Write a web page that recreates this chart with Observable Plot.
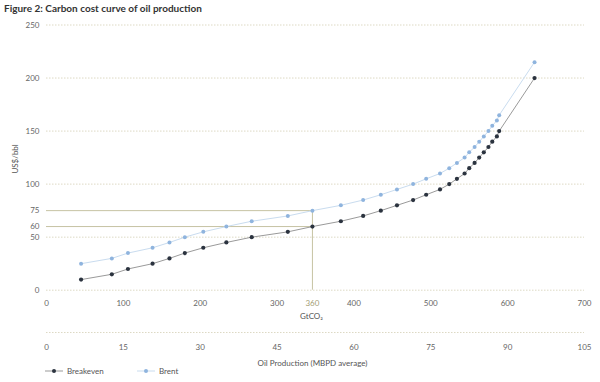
<!DOCTYPE html>
<html><head><meta charset="utf-8">
<script src="https://cdn.jsdelivr.net/npm/d3@7"></script>
<script src="https://cdn.jsdelivr.net/npm/@observablehq/plot@0.6"></script>
<style>
body{margin:0;background:#fff;font-family:Lato,"Open Sans",sans-serif;}
#wrap{width:600px;height:382px;position:relative;overflow:hidden;background:#fff}
#title{position:absolute;left:4px;top:2px;font-weight:bold;font-size:10px;color:#333;white-space:nowrap}
#main{position:absolute;left:0;top:18px}
#second{position:absolute;left:0;top:322px}
.leg{position:absolute;top:366px;font-size:8px;color:#555;display:flex;align-items:center;white-space:nowrap}
.leg svg{margin-right:3px}
</style></head>
<body>
<div id="wrap">
  <div id="title">Figure 2: Carbon cost curve of oil production</div>
  <div id="main"></div>
  <div id="second"></div>
  <div class="leg" style="left:44px"><svg width="20" height="10"><line x1="1" x2="19" y1="5" y2="5" stroke="#999" stroke-width="1"/><circle cx="10" cy="5" r="2" fill="#2b333f"/></svg>Breakeven</div>
  <div class="leg" style="left:136px"><svg width="20" height="10"><line x1="1" x2="19" y1="5" y2="5" stroke="#c9dcef" stroke-width="1"/><circle cx="10" cy="5" r="2" fill="#8fb4de"/></svg>Brent</div>
</div>
<script>
// Cumulative emissions (GtCO2) for each point on the curve
const gtco2 = [45, 85, 106, 138, 160, 180, 204, 234, 267, 314, 346, 383, 412, 435, 456, 477, 494, 512, 524, 534, 544, 550, 557, 563, 569, 575, 580, 586, 589, 635];
// Breakeven price (US$/bbl)
const breakeven = [10, 15, 20, 25, 30, 35, 40, 45, 50, 55, 60, 65, 70, 75, 80, 85, 90, 95, 100, 105, 110, 115, 120, 125, 130, 135, 140, 145, 150, 200];
// Brent price (US$/bbl)
const brent = [25, 30, 35, 40, 45, 50, 55, 60, 65, 70, 75, 80, 85, 90, 95, 100, 105, 110, 115, 120, 125, 130, 135, 140, 145, 150, 155, 160, 165, 215];
const yTicks = [0, 50, 60, 75, 100, 150, 200, 250];
const yGrid = [0, 50, 100, 150, 200, 250];
const xTicks = [0, 100, 200, 300, 400, 500, 600, 700];
const prodTicks = [0, 15, 30, 45, 60, 75, 90, 105];
const refIndex = 10;          // point where breakeven = 60
const refX = gtco2[refIndex]; // position of the 360 GtCO2 marker
const refLabel = "360";
const refLevels = [60, 75];

const rows = gtco2.map((x, i) => ({x, breakeven: breakeven[i], brent: brent[i]}));
const guideH = refLevels.map(v => ({y: v, x1: 0, x2: refX}));

const tan = "#c6c3a3";
const gridC = "#ddd9c4";
const tickC = "#666";

const main = Plot.plot({
  width: 600, height: 304,
  marginLeft: 46, marginRight: 16, marginTop: 6.5, marginBottom: 32.3,
  style: {fontFamily: "Lato, 'Open Sans', sans-serif", fontSize: "8px", background: "#fff"},
  x: {domain: [0, 700], axis: null},
  y: {domain: [0, 250], axis: null},
  marks: [
    Plot.gridY(yGrid, {stroke: gridC, strokeOpacity: 1, strokeDasharray: "1.5,1.5", strokeWidth: 1}),
    Plot.ruleY(guideH, {y: "y", x1: "x1", x2: "x2", stroke: tan, strokeWidth: 1}),
    Plot.ruleX([refX], {x: d => d, y1: 0, y2: refLevels[1], stroke: tan, strokeWidth: 1}),
    Plot.axisY({ticks: yTicks, tickSize: 0, tickPadding: 7, label: null, color: tickC}),
    Plot.axisX({ticks: xTicks, tickSize: 0, tickPadding: 10, label: null, color: tickC}),
    Plot.text([refLabel], {x: () => refX, frameAnchor: "bottom", lineAnchor: "top", dy: 10, fill: "#a39d74"}),
    Plot.text(["GtCO₂"], {frameAnchor: "bottom", lineAnchor: "middle", dy: 26.3, dx: -4, fill: "#555"}),
    Plot.text(["US$/bbl"], {frameAnchor: "left", dx: -31, dy: 16, rotate: -90, fill: "#555"}),
    Plot.line(rows, {x: "x", y: "brent", stroke: "#c9dcef", strokeWidth: 1}),
    Plot.dot(rows, {x: "x", y: "brent", r: 2, fill: "#8fb4de"}),
    Plot.line(rows, {x: "x", y: "breakeven", stroke: "#9a9a9a", strokeWidth: 1}),
    Plot.dot(rows, {x: "x", y: "breakeven", r: 2.1, fill: "#2b333f"})
  ]
});
document.getElementById("main").appendChild(main);

const second = Plot.plot({
  width: 600, height: 52,
  marginLeft: 46, marginRight: 16, marginTop: 10, marginBottom: 41,
  style: {fontFamily: "Lato, 'Open Sans', sans-serif", fontSize: "8px", background: "transparent"},
  x: {domain: [0, 105], axis: null},
  y: {domain: [0, 1], axis: null},
  marks: [
    Plot.ruleY([1], {stroke: gridC, strokeDasharray: "1.5,1.5", strokeWidth: 1}),
    Plot.axisX({ticks: prodTicks, tickSize: 0, tickPadding: 11, label: null, color: tickC}),
    Plot.text(["Oil Production (MBPD average)"], {frameAnchor: "bottom", lineAnchor: "middle", dy: 29.7, dx: -3, fill: "#555"})
  ]
});
document.getElementById("second").appendChild(second);
</script>
</body></html>
